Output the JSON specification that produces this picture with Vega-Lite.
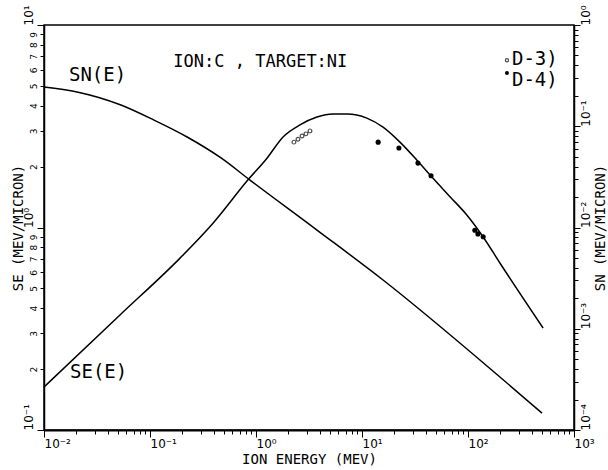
{
  "$schema": "https://vega.github.io/schema/vega-lite/v6.json",
  "width": 530,
  "height": 405,
  "autosize": {"type": "none"},
  "padding": {"left": 44, "top": 25, "right": 34, "bottom": 40},
  "background": "white",
  "config": {
    "view": {"stroke": "black", "strokeWidth": 1.5},
    "font": "DejaVu Sans Mono",
    "axis": {
      "domainColor": "black",
      "domainWidth": 1.5,
      "tickColor": "black",
      "labelColor": "black",
      "titleColor": "black",
      "grid": false,
      "labelOverlap": false,
      "labelFlush": false,
      "labelFont": "DejaVu Sans",
      "titleFont": "DejaVu Sans Mono",
      "titleFontWeight": "normal",
      "titleFontSize": 14
    }
  },
  "datasets": {
    "se_curve": [
      {"e": 0.01, "v": 0.163},
      {"e": 0.0521, "v": 0.37},
      {"e": 0.192, "v": 0.706},
      {"e": 0.393, "v": 1.05},
      {"e": 0.841, "v": 1.72},
      {"e": 1.27, "v": 2.2},
      {"e": 1.8, "v": 2.8},
      {"e": 2.6, "v": 3.21},
      {"e": 3.76, "v": 3.51},
      {"e": 5.32, "v": 3.63},
      {"e": 7.21, "v": 3.63},
      {"e": 11.1, "v": 3.47},
      {"e": 15.8, "v": 3.13},
      {"e": 22.8, "v": 2.64},
      {"e": 33.0, "v": 2.15},
      {"e": 46.8, "v": 1.75},
      {"e": 67.6, "v": 1.42},
      {"e": 97.9, "v": 1.15},
      {"e": 139, "v": 0.898},
      {"e": 200, "v": 0.668},
      {"e": 511, "v": 0.319}
    ],
    "sn_curve": [
      {"e": 0.01, "v": 0.244},
      {"e": 0.0205, "v": 0.218},
      {"e": 0.0532, "v": 0.162},
      {"e": 0.109, "v": 0.115},
      {"e": 0.224, "v": 0.0783},
      {"e": 0.468, "v": 0.0486},
      {"e": 0.877, "v": 0.0294},
      {"e": 3.76, "v": 0.00944},
      {"e": 15.8, "v": 0.00303},
      {"e": 200, "v": 0.000334},
      {"e": 499, "v": 0.000147}
    ],
    "measured": [
      {"e": 2.28, "v": 2.64, "set": "D-3"},
      {"e": 2.49, "v": 2.73, "set": "D-3"},
      {"e": 2.72, "v": 2.83, "set": "D-3"},
      {"e": 2.96, "v": 2.9, "set": "D-3"},
      {"e": 3.23, "v": 3.0, "set": "D-3"},
      {"e": 14.2, "v": 2.64, "set": "D-4"},
      {"e": 22.3, "v": 2.47, "set": "D-4"},
      {"e": 33.7, "v": 2.08, "set": "D-4"},
      {"e": 44.8, "v": 1.8, "set": "D-4"},
      {"e": 116, "v": 0.97, "set": "D-4"},
      {"e": 124, "v": 0.93, "set": "D-4"},
      {"e": 139, "v": 0.9, "set": "D-4"}
    ],
    "labels": [
      {"e": 0.0172, "v": 5.66, "text": "SN(E)", "size": 19},
      {"e": 0.0176, "v": 0.193, "text": "SE(E)", "size": 19},
      {"e": 0.166, "v": 6.56, "text": "ION:C , TARGET:NI", "size": 17},
      {"e": 260, "v": 6.79, "text": "D-3)", "size": 19},
      {"e": 260, "v": 5.35, "text": "D-4)", "size": 19}
    ],
    "key": [
      {"e": 233, "v": 6.7, "set": "D-3"},
      {"e": 233, "v": 5.79, "set": "D-4"}
    ]
  },
  "encoding": {
    "x": {
      "field": "e",
      "type": "quantitative",
      "scale": {"type": "log", "domain": [0.01, 1000], "nice": false},
      "axis": {
        "title": "ION ENERGY (MEV)",
        "titlePadding": 3,
        "values": [0.01, 0.02, 0.03, 0.04, 0.05, 0.06, 0.07, 0.08, 0.09, 0.1, 0.2, 0.3, 0.4, 0.5, 0.6, 0.7, 0.8, 0.9, 1, 2, 3, 4, 5, 6, 7, 8, 9, 10, 20, 30, 40, 50, 60, 70, 80, 90, 100, 200, 300, 400, 500, 600, 700, 800, 900, 1000],
        "labelExpr": "datum.value == 0.01 ? '10⁻²' : datum.value == 0.1 ? '10⁻¹' : datum.value == 1 ? '10⁰' : datum.value == 10 ? '10¹' : datum.value == 100 ? '10²' : datum.value == 1000 ? '10³' : ''",
        "labelAlign": "left",
        "labelDx": -3,
        "labelFontSize": 12,
        "labelPadding": 1,
        "domainWidth": 2,
        "tickSize": {"condition": {"test": "indexof([0.01, 0.1, 1, 10, 100, 1000], datum.value) >= 0", "value": 7}, "value": 4}
      }
    }
  },
  "layer": [
    {
      "encoding": {
        "y": {
          "field": "v",
          "type": "quantitative",
          "scale": {"type": "log", "domain": [0.1, 10], "nice": false},
          "axis": {
            "orient": "left",
            "title": "SE (MEV/MICRON)",
            "titlePadding": -3,
            "values": [0.1, 0.2, 0.3, 0.4, 0.5, 0.6, 0.7, 0.8, 0.9, 1, 2, 3, 4, 5, 6, 7, 8, 9, 10],
            "labelExpr": "datum.value == 0.1 ? '10⁻¹' : datum.value == 1 ? '10⁰' : datum.value == 10 ? '10¹' : format(datum.value < 1 ? datum.value * 10 : datum.value, '.0f')",
            "labelAngle": 270,
            "labelBaseline": "bottom",
            "labelAlign": {"condition": {"test": "indexof([0.1, 1, 10], datum.value) >= 0", "value": "left"}, "value": "center"},
            "labelFontSize": {"condition": {"test": "indexof([0.1, 1, 10], datum.value) >= 0", "value": 12}, "value": 9},
            "labelPadding": 2,
            "tickSize": {"condition": {"test": "indexof([0.1, 1, 10], datum.value) >= 0", "value": 7}, "value": 4}
          }
        }
      },
      "layer": [
        {
          "data": {"name": "se_curve"},
          "mark": {"type": "line", "color": "black", "strokeWidth": 1.5, "interpolate": "monotone"}
        },
        {
          "data": {"name": "measured"},
          "transform": [{"filter": "datum.set == 'D-3'"}],
          "mark": {"type": "point", "shape": "circle", "filled": false, "color": "black", "size": 14, "strokeWidth": 1.2}
        },
        {
          "data": {"name": "measured"},
          "transform": [{"filter": "datum.set == 'D-4'"}],
          "mark": {"type": "point", "shape": "circle", "filled": true, "color": "black", "size": 26, "opacity": 1}
        },
        {
          "data": {"name": "key"},
          "transform": [{"filter": "datum.set == 'D-3'"}],
          "mark": {"type": "point", "shape": "circle", "filled": false, "color": "black", "size": 10, "strokeWidth": 1.2}
        },
        {
          "data": {"name": "key"},
          "transform": [{"filter": "datum.set == 'D-4'"}],
          "mark": {"type": "point", "shape": "circle", "filled": true, "color": "black", "size": 16, "opacity": 1}
        },
        {
          "data": {"name": "labels"},
          "mark": {"type": "text", "align": "left", "baseline": "middle", "font": "DejaVu Sans Mono", "color": "black"},
          "encoding": {
            "text": {"field": "text"},
            "size": {"field": "size", "type": "quantitative", "scale": null}
          }
        }
      ]
    },
    {
      "data": {"name": "sn_curve"},
      "mark": {"type": "line", "color": "black", "strokeWidth": 1.5, "interpolate": "monotone"},
      "encoding": {
        "y": {
          "field": "v",
          "type": "quantitative",
          "scale": {"type": "log", "domain": [0.0001, 1], "nice": false},
          "axis": {
            "orient": "right",
            "title": "SN (MEV/MICRON)",
            "titleAngle": 270,
            "titleBaseline": "top",
            "titlePadding": 2,
            "values": [0.0001, 0.0002, 0.0003, 0.0004, 0.0005, 0.0006, 0.0007, 0.0008, 0.0009, 0.001, 0.002, 0.003, 0.004, 0.005, 0.006, 0.007, 0.008, 0.009, 0.01, 0.02, 0.03, 0.04, 0.05, 0.06, 0.07, 0.08, 0.09, 0.1, 0.2, 0.3, 0.4, 0.5, 0.6, 0.7, 0.8, 0.9, 1],
            "labelExpr": "datum.value == 0.0001 ? '10⁻⁴' : datum.value == 0.001 ? '10⁻³' : datum.value == 0.01 ? '10⁻²' : datum.value == 0.1 ? '10⁻¹' : datum.value == 1 ? '10⁰' : ''",
            "labelAngle": 270,
            "labelBaseline": "top",
            "labelAlign": "left",
            "labelFontSize": 12,
            "labelPadding": 0,
            "tickSize": {"condition": {"test": "indexof([0.0001, 0.001, 0.01, 0.1, 1], datum.value) >= 0", "value": 6}, "value": 4}
          }
        }
      }
    }
  ],
  "resolve": {"scale": {"y": "independent"}, "axis": {"y": "independent"}}
}
